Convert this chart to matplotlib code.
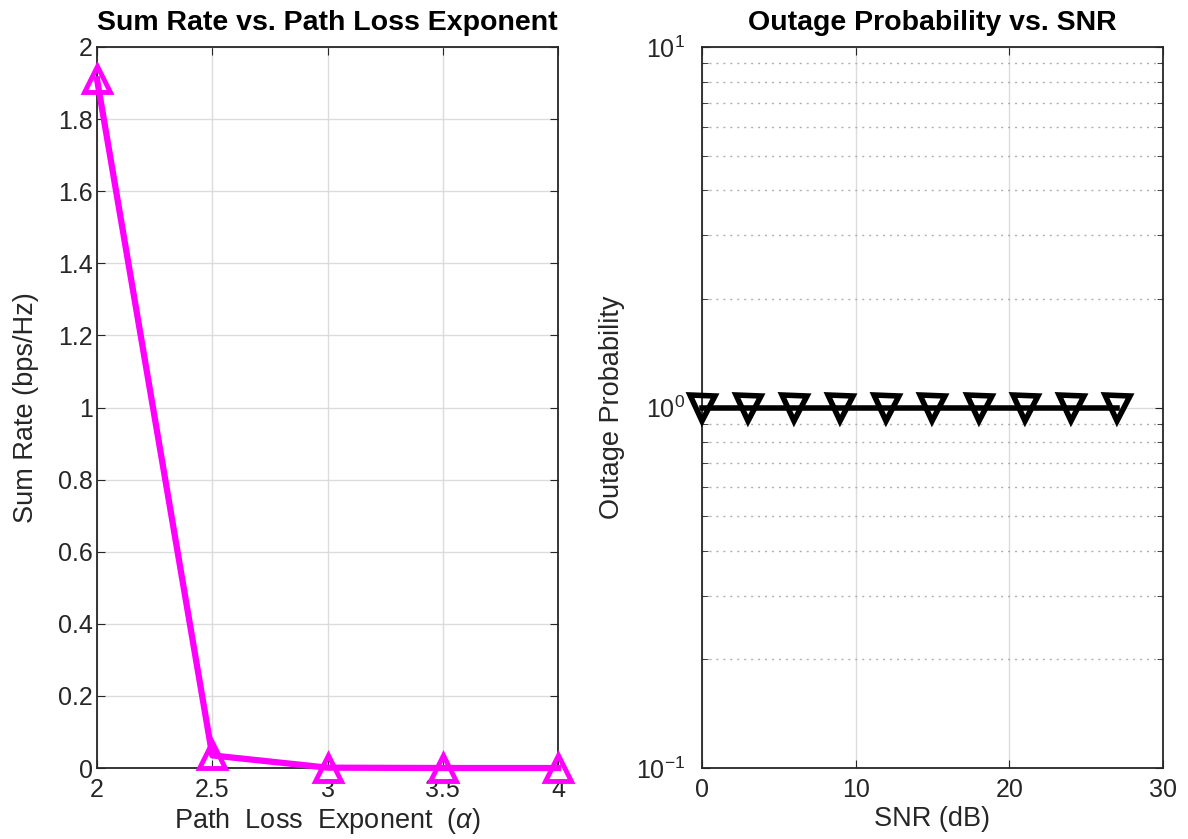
import matplotlib
matplotlib.use("Agg")
import matplotlib.pyplot as plt
from matplotlib.ticker import LogLocator, NullFormatter

plt.rcParams["font.family"] = ["Liberation Sans", "DejaVu Sans"]
plt.rcParams["mathtext.fontset"] = "custom"
plt.rcParams["mathtext.rm"] = "Liberation Sans"
plt.rcParams["mathtext.it"] = "Liberation Sans:italic"

# data
alpha = [2.0, 2.5, 3.0, 3.5, 4.0]
sum_rate = [1.91, 0.035, 0.001, 0.0, 0.0]
snr_db = [0, 3, 6, 9, 12, 15, 18, 21, 24, 27]
outage = [1, 1, 1, 1, 1, 1, 1, 1, 1, 1]

fig = plt.figure(figsize=(11.88, 8.39), dpi=100)
ax1 = fig.add_axes([0.0817, 0.0846, 0.388, 0.8594])
ax2 = fig.add_axes([0.5909, 0.0846, 0.388, 0.8594])

grid_c = "#dcdcdc"
axis_c = "#262626"
tick_fs = 18
label_fs = 19.5
title_fs = 20.5

for ax in (ax1, ax2):
    for s in ax.spines.values():
        s.set_color(axis_c)
        s.set_linewidth(1.3)
    ax.tick_params(which="both", direction="in", top=True, right=True,
                   labelsize=tick_fs, colors=axis_c)
    ax.tick_params(which="major", length=6)
    ax.tick_params(which="minor", length=4)
    ax.tick_params(axis="x", pad=7)

# left: sum rate
ax1.plot(alpha, sum_rate, "-^", color="#ff00ff", lw=4.5, ms=19, mew=3.5,
         mfc="none", clip_on=False, zorder=3)
ax1.set_xlim(2, 4)
ax1.set_ylim(0, 2)
ax1.set_xticks([2, 2.5, 3, 3.5, 4])
ax1.set_xticklabels(["2", "2.5", "3", "3.5", "4"])
ax1.set_yticks([0, 0.2, 0.4, 0.6, 0.8, 1, 1.2, 1.4, 1.6, 1.8, 2])
ax1.set_yticklabels(["0", "0.2", "0.4", "0.6", "0.8", "1", "1.2", "1.4",
                     "1.6", "1.8", "2"])
ax1.tick_params(axis="y", pad=3)
ax1.grid(True, color=grid_c, lw=1)
ax1.set_axisbelow(True)
ax1.set_xlabel(r"Path  Loss  Exponent  ($\alpha$)", fontsize=label_fs,
               color=axis_c, labelpad=3)
ax1.set_ylabel("Sum Rate (bps/Hz)", fontsize=label_fs, color=axis_c,
               labelpad=14)
ax1.set_title("Sum Rate vs. Path Loss Exponent", fontsize=title_fs,
              fontweight="bold", pad=12)

# right: outage probability
ax2.semilogy(snr_db, outage, "-v", color="black", lw=4, ms=18, mew=4,
             mfc="none", clip_on=False, zorder=3)
ax2.set_xlim(0, 30)
ax2.set_ylim(0.1, 10)
ax2.set_xticks([0, 10, 20, 30])
ax2.yaxis.set_major_locator(LogLocator(base=10, numticks=5))
ax2.yaxis.set_minor_locator(LogLocator(base=10, subs=range(2, 10), numticks=20))
ax2.yaxis.set_minor_formatter(NullFormatter())
ax2.tick_params(axis="y", pad=12)
ax2.grid(True, which="major", color=grid_c, lw=1)
ax2.grid(True, which="minor", axis="y", color="#b0b0b0", lw=1,
         linestyle=(0, (1.5, 3.5)))
ax2.set_axisbelow(True)
ax2.set_xlabel("SNR (dB)", fontsize=label_fs, color=axis_c, labelpad=3)
ax2.set_ylabel("Outage Probability", fontsize=label_fs, color=axis_c,
               labelpad=8)
ax2.set_title("Outage Probability vs. SNR", fontsize=title_fs,
              fontweight="bold", pad=12)

fig.savefig("out.png", dpi=100)
